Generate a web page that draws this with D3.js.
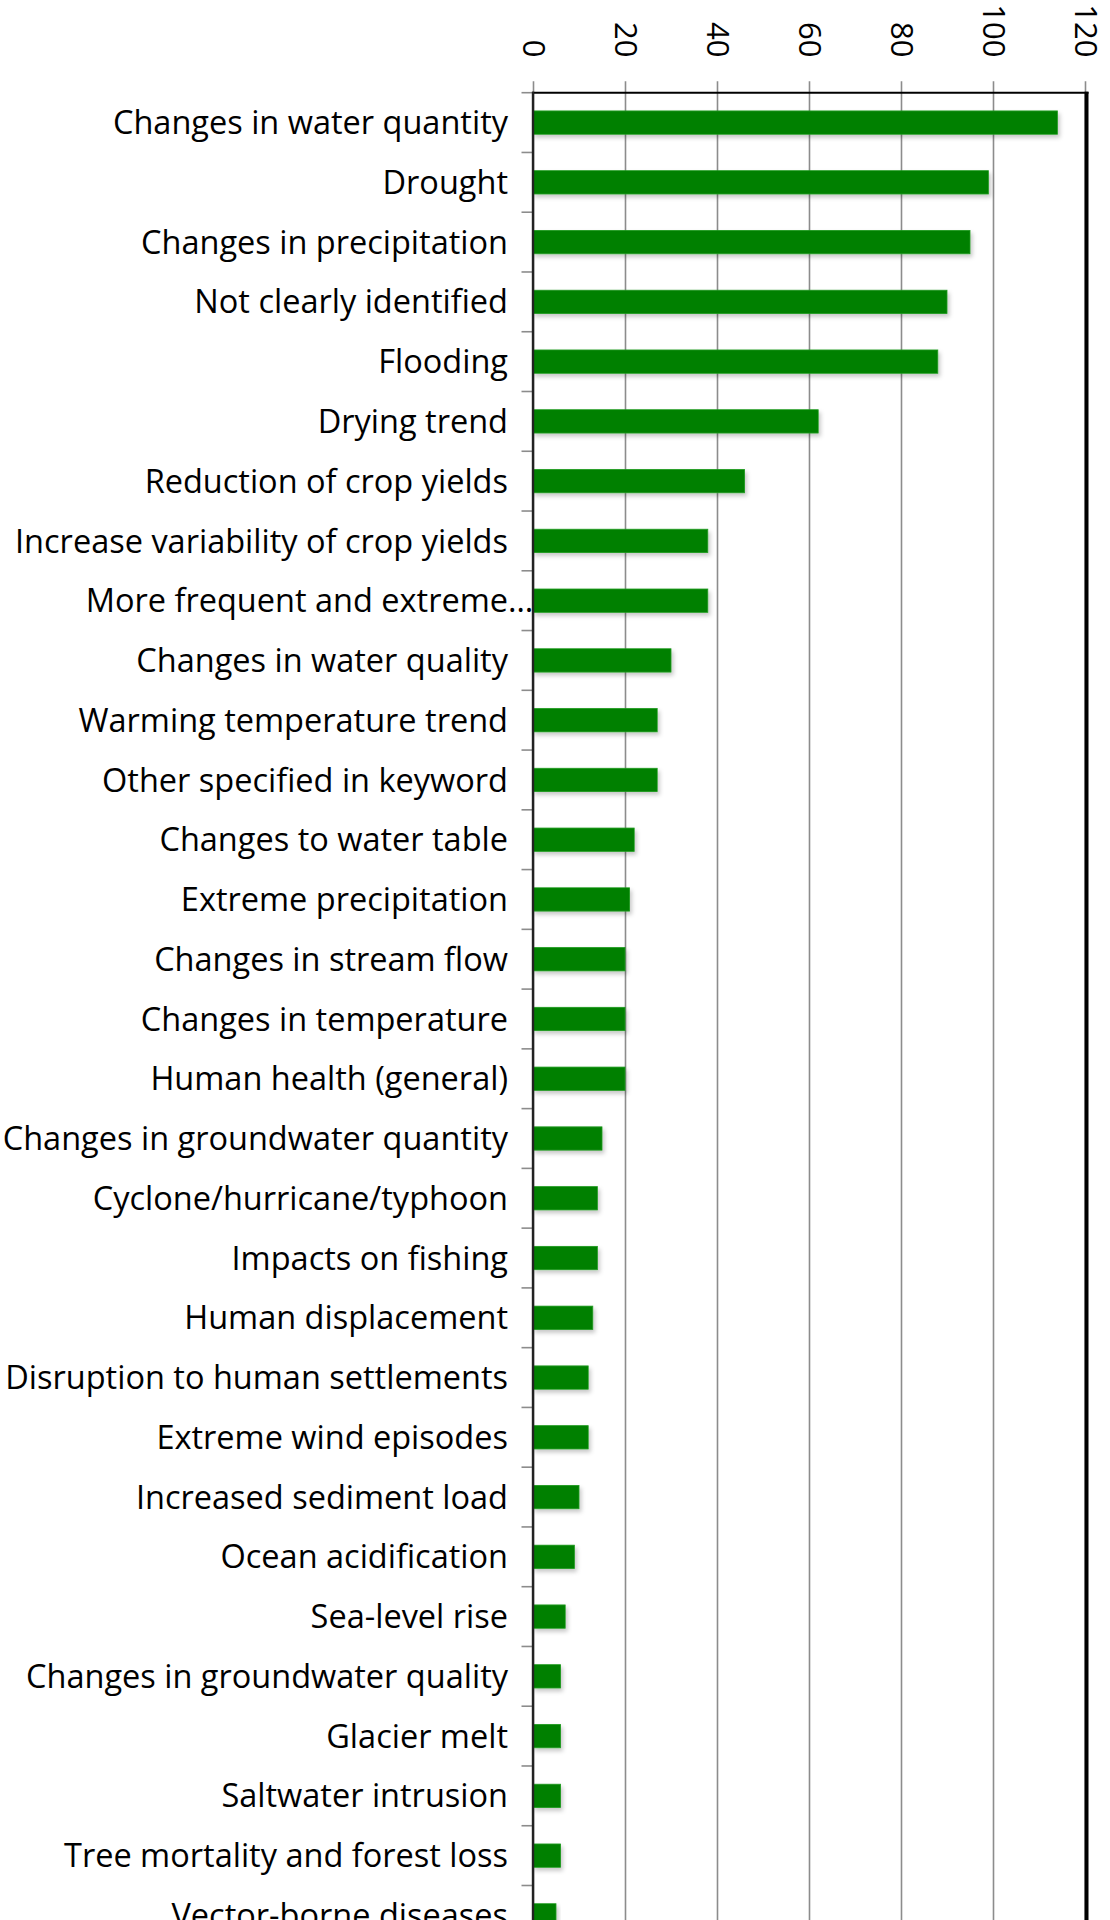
<!DOCTYPE html>
<html>
<head>
<meta charset="utf-8">
<script src="https://cdn.jsdelivr.net/npm/d3@7"></script>
<style>
  html, body { margin: 0; padding: 0; background: #fff; overflow: hidden; }
  svg { display: block; }
</style>
</head>
<body>
<svg id="chart" width="1110" height="1920"></svg>
<script>
const categories = [
  "Changes in water quantity",
  "Drought",
  "Changes in precipitation",
  "Not clearly identified",
  "Flooding",
  "Drying trend",
  "Reduction of crop yields",
  "Increase variability of crop yields",
  "More frequent and extreme…",
  "Changes in water quality",
  "Warming temperature trend",
  "Other specified in keyword",
  "Changes to water table",
  "Extreme precipitation",
  "Changes in stream flow",
  "Changes in temperature",
  "Human health (general)",
  "Changes in groundwater quantity",
  "Cyclone/hurricane/typhoon",
  "Impacts on fishing",
  "Human displacement",
  "Disruption to human settlements",
  "Extreme wind episodes",
  "Increased sediment load",
  "Ocean acidification",
  "Sea-level rise",
  "Changes in groundwater quality",
  "Glacier melt",
  "Saltwater intrusion",
  "Tree mortality and forest loss",
  "Vector-borne diseases"
];
const values = [114, 99, 95, 90, 88, 62, 46, 38, 38, 30, 27, 27, 22, 21, 20, 20, 20, 15, 14, 14, 13, 12, 12, 10, 9, 7, 6, 6, 6, 6, 5];
const xTicks = [0, 20, 40, 60, 80, 100, 120];

(function () {
const data = categories.map((c, i) => ({ cat: c, val: values[i] }));

const svg = d3.select("#chart");
const W = 1110, H = 1920;
const mLeft = 533, mRight = 1085, mTop = 92.7, step = 59.76;
const mBottom = mTop + categories.length * step;

const x = d3.scaleLinear().domain([0, 120]).range([mLeft, mRight]);
const y = d3.scaleBand().domain(categories).range([mTop, mBottom])
  .paddingInner(0.61).paddingOuter(0.305);

const defs = svg.append("defs");
const f = defs.append("filter").attr("id", "sh").attr("x", "-10%").attr("y", "-30%").attr("width", "130%").attr("height", "190%");
f.append("feDropShadow").attr("dx", 2).attr("dy", 3).attr("stdDeviation", 2)
  .attr("flood-color", "#000").attr("flood-opacity", 0.22);

const font = "'Open Sans', 'Noto Sans', sans-serif";

// gridlines + top axis
const xAxis = d3.axisTop(x).tickValues(xTicks).tickSize(0).tickFormat(d3.format("d"));
const gx = svg.append("g").attr("transform", `translate(0,${mTop})`).call(xAxis);
gx.select(".domain").remove();
gx.selectAll(".tick line")
  .attr("y1", -11.5).attr("y2", H)
  .attr("stroke", "#8c8c8c").attr("stroke-width", 1.6);
gx.selectAll(".tick text")
  .attr("transform", "rotate(90)")
  .attr("x", -35.2).attr("y", 11).attr("dy", 0)
  .attr("text-anchor", "end")
  .attr("fill", "#000")
  .style("font-family", font).style("font-size", "31px");

// category boundary ticks
const bounds = d3.range(categories.length + 1).map(i => mTop + i * y.step());
svg.append("g").selectAll("line").data(bounds).join("line")
  .attr("x1", mLeft - 11.5).attr("x2", mLeft)
  .attr("y1", d => d).attr("y2", d => d)
  .attr("stroke", "#8c8c8c").attr("stroke-width", 1.6);

// bars
svg.append("g").selectAll("rect").data(data).join("rect")
  .attr("x", x(0))
  .attr("y", d => y(d.cat))
  .attr("width", d => x(d.val) - x(0))
  .attr("height", y.bandwidth())
  .attr("fill", "#008000")
  .attr("stroke", "#1f9a1f").attr("stroke-width", 0.8)
  .attr("filter", "url(#sh)");

// y axis labels
const yAxis = d3.axisLeft(y).tickSize(0).tickPadding(25)
  .tickFormat(d => d.endsWith("…") ? d.slice(0, -1) : d);
const gy = svg.append("g").attr("transform", `translate(${mLeft},0)`).call(yAxis);
gy.select(".domain").remove();
gy.selectAll(".tick text")
  .attr("fill", "#000")
  .attr("dy", "0.357em")
  .style("font-family", font).style("font-size", "32.5px");
gy.selectAll(".tick").filter(d => d.endsWith("…"))
  .append("text")
  .attr("x", -25).attr("dy", "0.357em")
  .attr("text-anchor", "start")
  .attr("fill", "#000")
  .style("font-family", font).style("font-size", "32.5px")
  .text("…");

// frame
svg.append("line").attr("x1", mLeft - 1).attr("x2", x(120) + 3.5).attr("y1", mTop).attr("y2", mTop)
  .attr("stroke", "#000").attr("stroke-width", 2);
svg.append("line").attr("x1", mLeft).attr("x2", mLeft).attr("y1", mTop - 1).attr("y2", H)
  .attr("stroke", "#222").attr("stroke-width", 2.4);
svg.append("line").attr("x1", x(120) + 1.5).attr("x2", x(120) + 1.5).attr("y1", mTop - 1).attr("y2", H)
  .attr("stroke", "#000").attr("stroke-width", 4);
})();
</script>
</body>
</html>
